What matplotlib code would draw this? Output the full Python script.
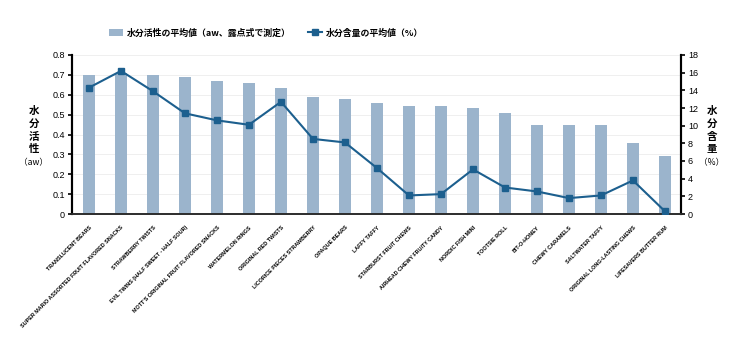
import numpy as np
import matplotlib.pyplot as plt

plt.rcParams['font.family'] = ['Noto Sans CJK JP', 'DejaVu Sans']

# 菓子の名前
names = ["TRANSLUCENT BEARS", "SUPER MARIO ASSORTED FRUIT FLAVORED SNACKS",
         "STRAWBERRY TWISTS", "EVIL TWINS (HALF SWEET - HALF SOUR)",
         "MOTT'S ORIGINAL FRUIT FLAVORED SNACKS", "WATERMELON RINGS",
         "ORIGINAL RED TWISTS", "LICORICE PIECES STRAWBERRY", "OPAQUE BEARS",
         "LAFFY TAFFY", "STARBURST FRUIT CHEWS", "AIRHEAD CHEWY FRUITY CANDY",
         "NORDIC FISH MINI", "TOOTSIE ROLL", "BIT-O-HONEY", "CHEWY CARAMELS",
         "SALTWATER TAFFY", "ORIGINAL LONG-LASTING CHEWS", "LIFESAVERS BUTTER RUM"]
# 水分活性 (aw)
aw = [0.70, 0.71, 0.70, 0.688, 0.67, 0.658, 0.635, 0.588, 0.577, 0.558,
      0.544, 0.544, 0.533, 0.506, 0.447, 0.447, 0.447, 0.358, 0.293]
# 水分含量 (%)
moist = [14.3, 16.2, 13.9, 11.4, 10.6, 10.1, 12.7, 8.5, 8.1, 5.2,
         2.1, 2.25, 5.05, 3.0, 2.55, 1.8, 2.1, 3.8, 0.3]

bar_col = '#9bb4cc'
line_col = '#1c5f8e'

fig = plt.figure(figsize=(7.48, 3.55), dpi=100)
ax = fig.add_axes([72/748, 1-214/355, (681-72)/748, (214-55)/355])
x = np.arange(len(names))

b = ax.bar(x, aw, width=0.37, color=bar_col, zorder=2,
           label='水分活性の平均値（aw、露点式で測定）')
ax.set_ylim(0, 0.8)
ax.set_yticks(np.arange(0, 0.81, 0.1))
ax.set_yticklabels(['0'] + ['%.1f' % v for v in np.arange(0.1, 0.81, 0.1)])
ax.set_xlim(-0.53, len(names) - 0.5)
ax.grid(axis='y', color='#ececec', linewidth=0.6, zorder=0)
ax.set_xticks(x)
ax.set_xticklabels(names, rotation=45, ha='right', rotation_mode='anchor',
                   fontsize=3.9, fontweight='bold', family='Liberation Sans')
ax.tick_params(axis='x', length=0, pad=8)
ax.tick_params(axis='y', labelsize=6.5, length=3, width=1.2, pad=2)
for lab in ax.get_yticklabels():
    lab.set_family('Liberation Sans')

ax2 = ax.twinx()
l, = ax2.plot(x, moist, color=line_col, marker='s', markersize=5, linewidth=1.5,
              zorder=3, label='水分含量の平均値（%）')
ax2.set_ylim(0, 18)
ax2.set_yticks(np.arange(0, 19, 2))
ax2.tick_params(axis='y', labelsize=6.5, length=3, width=1.2, pad=2)
for lab in ax2.get_yticklabels():
    lab.set_family('Liberation Sans')

for a in (ax, ax2):
    a.spines['top'].set_visible(False)
    a.spines['left'].set_linewidth(1.5)
    a.spines['right'].set_linewidth(1.5)
    a.spines['bottom'].set_linewidth(1.2)
ax2.spines['bottom'].set_color('#333333')

# 縦書きの軸ラベル
for xf, chars, unit in [(0.045, '水分活性', '（aw）'), (0.952, '水分含量', '（%）')]:
    for i, ch in enumerate(chars):
        fig.text(xf, 1 - (111 + 12.8 * i) / 355, ch, ha='center', va='center',
                 fontsize=7.5, fontweight='bold')
    fig.text(xf, 1 - 163 / 355, unit, ha='center', va='center', fontsize=6.2)

fig.legend(handles=[b, l], loc='center', bbox_to_anchor=(266/748, 1 - 33/355), ncol=2,
           frameon=False, prop={'size': 6.4, 'weight': 'bold'}, columnspacing=2.0,
           handlelength=1.6, handleheight=0.9, handletextpad=0.4)

fig.savefig('out.png', dpi=100)
